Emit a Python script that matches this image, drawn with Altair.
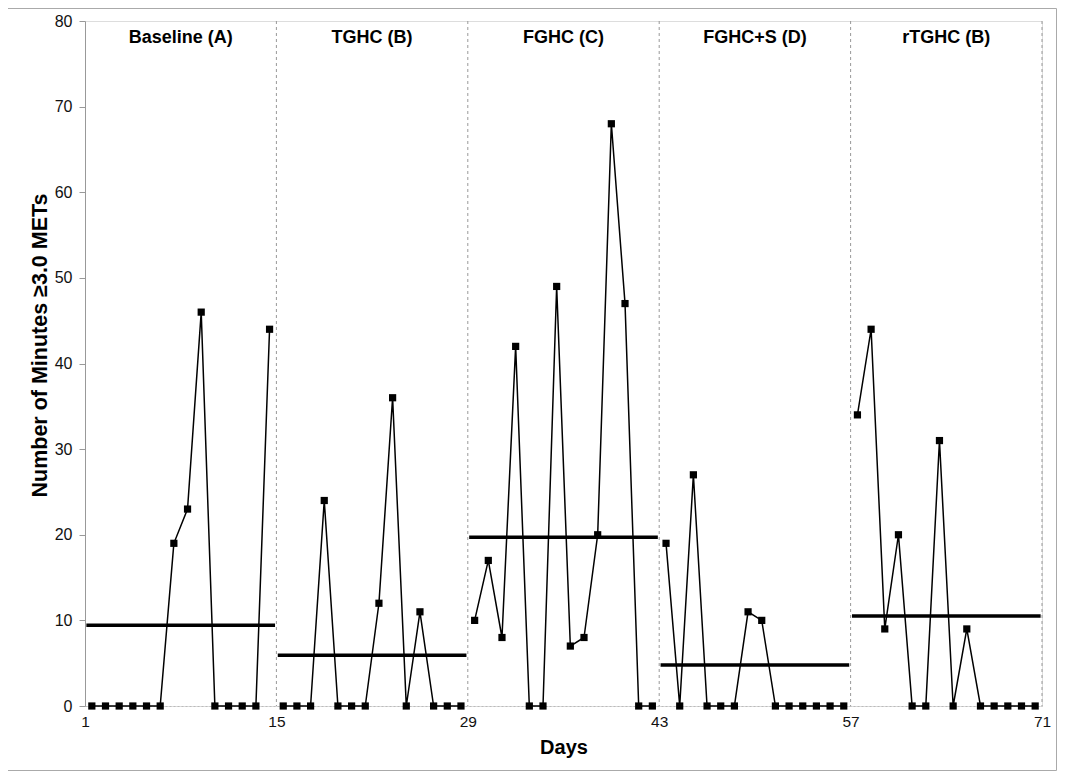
import altair as alt
import pandas as pd

phase_names = ["Baseline (A)", "TGHC (B)", "FGHC (C)", "FGHC+S (D)", "rTGHC (B)"]
phase_start = [1, 15, 29, 43, 57]
phase_end = [15, 29, 43, 57, 71]

baseline = [0, 0, 0, 0, 0, 0, 19, 23, 46, 0, 0, 0, 0, 44]
tghc = [0, 0, 0, 24, 0, 0, 0, 12, 36, 0, 11, 0, 0, 0]
fghc = [10, 17, 8, 42, 0, 0, 49, 7, 8, 20, 68, 47, 0, 0]
fghcs = [19, 0, 27, 0, 0, 0, 11, 10, 0, 0, 0, 0, 0, 0]
rtghc = [34, 44, 9, 20, 0, 0, 31, 0, 9, 0, 0, 0, 0, 0]

x_ticks = [1, 15, 29, 43, 57, 71]

series = [baseline, tghc, fghc, fghcs, rtghc]
rows = []
for name, start, vals in zip(phase_names, phase_start, series):
    for i, v in enumerate(vals):
        rows.append({"phase": name, "day": start + i, "minutes": v})
df = pd.DataFrame(rows)

phases = pd.DataFrame({"phase": phase_names, "start": phase_start, "end": phase_end})

W, H = 957, 685
xs = alt.Scale(domain=[1, 71], nice=False, zero=False)
ys = alt.Scale(domain=[0, 80], nice=False)

base = alt.Chart(df).transform_calculate(pos="datum.day + 0.5")

line = base.mark_line(color="black", strokeWidth=1.5).encode(
    x=alt.X("pos:Q", scale=xs,
            axis=alt.Axis(values=x_ticks, title="Days", grid=False, ticks=False,
                          labelFontSize=15.5, labelColor="#111", labelPadding=8,
                          labelFont="Liberation Sans", titleFont="Liberation Sans",
                          titleFontSize=20, titleFontWeight="bold", titleColor="black",
                          titlePadding=8, domainColor="#bbbbbb", domainDash=[2, 2],
                          domainWidth=1, labelFlush=False)),
    y=alt.Y("minutes:Q", scale=ys,
            axis=alt.Axis(values=list(range(0, 81, 10)), title="Number of Minutes \u22653.0 METs",
                          grid=False, tickColor="#999999", tickSize=6, domainColor="#999999",
                          labelFontSize=16, labelColor="#111", labelPadding=7,
                          labelFont="Liberation Sans", titleFont="Liberation Sans",
                          titleFontSize=21.5, titleFontWeight="bold", titleColor="black",
                          titlePadding=3, titleY=324)),
    detail="phase:N",
)

points = base.mark_square(color="black", size=52, opacity=1).encode(
    x=alt.X("pos:Q", scale=xs),
    y=alt.Y("minutes:Q", scale=ys),
)

means = alt.Chart(df).transform_aggregate(
    mean_val="mean(minutes)", groupby=["phase"]
).transform_lookup(
    lookup="phase", from_=alt.LookupData(phases, "phase", ["start", "end"])
).transform_calculate(
    s="datum.start + 0.1", e="datum.end - 0.1"
).mark_rule(color="black", strokeWidth=3.5).encode(
    x=alt.X("s:Q", scale=xs), x2="e:Q", y=alt.Y("mean_val:Q", scale=ys)
)

dividers = alt.Chart(phases).transform_filter("datum.end > 1").mark_rule(
    color="#999999", strokeWidth=1, strokeDash=[3, 3]
).encode(
    x=alt.X("end:Q", scale=xs), y=alt.value(0), y2=alt.value(H)
)

labels = alt.Chart(phases).transform_calculate(
    mid="(datum.start + datum.end) / 2", ly="78"
).mark_text(fontSize=18, fontWeight="bold", font="Liberation Sans", color="black",
            baseline="middle").encode(
    x=alt.X("mid:Q", scale=xs), y=alt.Y("ly:Q", scale=ys), text="phase:N"
)

border = alt.Chart(phases).transform_filter("datum.start == 1").mark_rect(
    filled=False, stroke="#aaaaaa", strokeWidth=1
).encode(
    x=alt.value(-77.5), x2=alt.value(971.5), y=alt.value(-12.5), y2=alt.value(749.5)
)

chart = alt.layer(border, dividers, means, line, points, labels).properties(
    width=W, height=H,
    autosize=alt.AutoSizeParams(type="none"),
    padding={"left": 77, "top": 13, "right": 15, "bottom": 65},
).configure_view(stroke=None).configure(background="white")

chart.save("out.html", embed_options={"renderer": "svg", "actions": False})
